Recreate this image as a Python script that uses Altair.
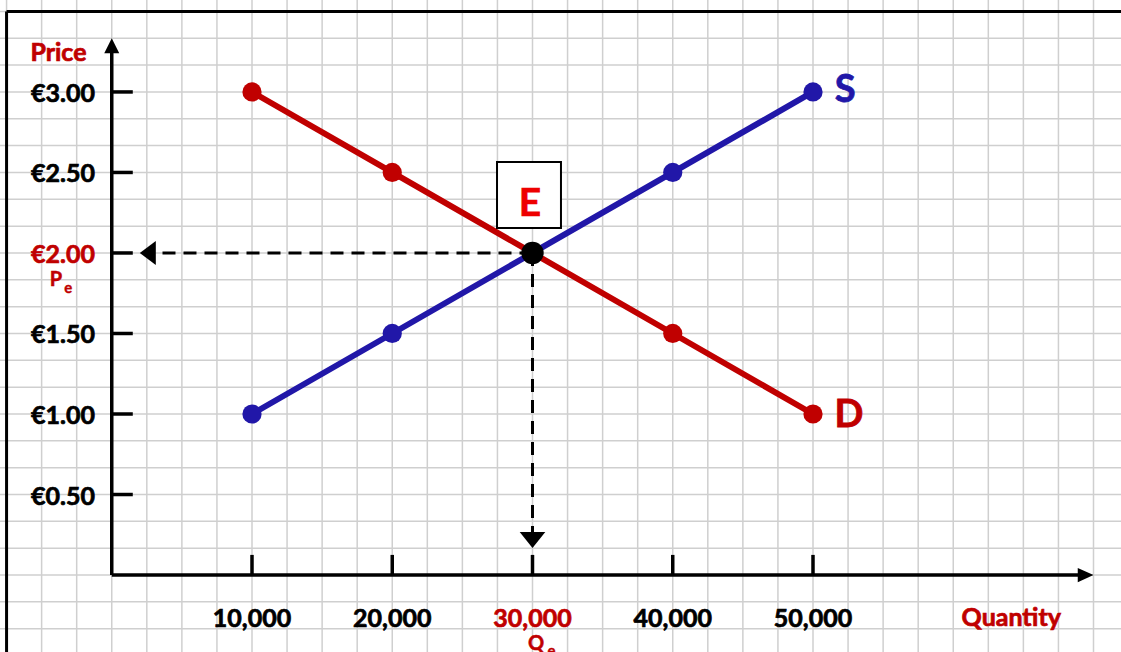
import altair as alt
import pandas as pd

# ---- data ----
quantity = [10000, 20000, 30000, 40000, 50000]
demand_price = [3.00, 2.50, 2.00, 1.50, 1.00]
supply_price = [1.00, 1.50, 2.00, 2.50, 3.00]
eq_q = [30000]
eq_p = [2.00]
y_tick_values = [0.5, 1.0, 1.5, 2.0, 2.5, 3.0]
y_tick_labels = ["€0.50", "€1.00", "€1.50", "€2.00", "€2.50", "€3.00"]
y_label_colors = ["black", "black", "black", "#c00000", "black", "black"]
x_tick_labels = ["10,000", "20,000", "30,000", "40,000", "50,000"]
x_label_colors = ["black", "black", "#c00000", "black", "black"]

RED = "#c00000"
BLUE = "#2117a8"
FONT = "Lato"

# graph-paper grid (decoration): 2,500 units by 1/6 euro per cell
x_grid = [2500 * k for k in range(-3, 29)]
y_grid = [k / 6 for k in range(-2, 22)]

XD = [-7968, 71961]
YD = [-0.478, 3.571]
xs = alt.Scale(domain=XD, nice=False, zero=False)
ys = alt.Scale(domain=YD, nice=False, zero=False)


def X(f="x", **kw):
    return alt.X(f, type="quantitative", scale=xs, axis=None, **kw)


def Y(f="y", **kw):
    return alt.Y(f, type="quantitative", scale=ys, axis=None, **kw)


gx = alt.Chart(pd.DataFrame({"x": x_grid})).mark_rule(color="#cfcfcf", strokeWidth=1.5).encode(x=X())
gy = alt.Chart(pd.DataFrame({"y": y_grid})).mark_rule(color="#cfcfcf", strokeWidth=1.5).encode(y=Y())

# frame (top and left border)
frame = alt.Chart(pd.DataFrame({
    "x": [-7500, -7500], "x2": [XD[1], -7500], "y": [3.5, 3.5], "y2": [3.5, YD[0]]
})).mark_rule(color="black", strokeWidth=3).encode(x=X(), x2="x2", y=Y(), y2="y2")

# axes
axes = alt.Chart(pd.DataFrame({
    "x": [0, 0], "x2": [0, 69200], "y": [0, 0], "y2": [3.26, 0]
})).mark_rule(color="black", strokeWidth=3.5).encode(x=X(), x2="x2", y=Y(), y2="y2")

ytick = alt.Chart(pd.DataFrame({"y": y_tick_values, "x": 0, "x2": 1500})).mark_rule(
    color="black", strokeWidth=3.5).encode(x=X(), x2="x2", y=Y())
xtick = alt.Chart(pd.DataFrame({"x": quantity, "y": 0, "y2": 0.125})).mark_rule(
    color="black", strokeWidth=3.5).encode(x=X(), y=Y(), y2="y2")

# arrow heads (tip at the data point)
arrow_df = pd.DataFrame({
    "x": [0, 70000, 2000, 30000],
    "y": [3.333, 0, 2.0, 0.168],
    "shape": ["M0,0L-1,2L1,2Z", "M0,0L-2.1,-0.95L-2.1,0.95Z",
              "M0,0L2,-1.5L2,1.5Z", "M0,0L-1.6,-2L1.6,-2Z"],
    "size": [225, 225, 256, 256],
})
arrows = alt.Chart(arrow_df).mark_point(filled=True, color="black", opacity=1).encode(
    x=X(), y=Y(),
    shape=alt.Shape("shape:N", scale=None, legend=None),
    size=alt.Size("size:Q", scale=None, legend=None),
)

# dashed guides
dash = alt.Chart(pd.DataFrame({
    "x": [30000, 30000], "x2": [2600, 30000], "y": [2.0, 2.0], "y2": [2.0, 0.25]
})).mark_rule(color="black", strokeWidth=3, strokeDash=[13, 8]).encode(
    x=X(), x2="x2", y=Y(), y2="y2")

df_d = pd.DataFrame({"x": quantity, "y": demand_price})
df_s = pd.DataFrame({"x": quantity, "y": supply_price})

d_line = alt.Chart(df_d).mark_line(color=RED, strokeWidth=6).encode(x=X(), y=Y())
s_line = alt.Chart(df_s).mark_line(color=BLUE, strokeWidth=6).encode(x=X(), y=Y())
d_pts = alt.Chart(df_d).mark_circle(color=RED, size=370, opacity=1).encode(x=X(), y=Y())
s_pts = alt.Chart(df_s).mark_circle(color=BLUE, size=370, opacity=1).encode(x=X(), y=Y())
eq_pt = alt.Chart(pd.DataFrame({"x": eq_q, "y": eq_p})).mark_circle(
    color="black", size=500, opacity=1).encode(x=X(), y=Y())

# E box
ebox = alt.Chart(pd.DataFrame({"x": [27470], "x2": [32030], "y": [2.565], "y2": [2.155]})).mark_rect(
    fill="white", stroke="black", strokeWidth=2).encode(x=X(), x2="x2", y=Y(), y2="y2")


def txt(df, size, align="center", dy=0, sw=0.7):
    return alt.Chart(df).mark_text(font=FONT, fontSize=size, fontWeight="bold", align=align,
                                   baseline="middle", dy=dy, strokeWidth=sw).encode(
        x=X(), y=Y(), text="t:N",
        color=alt.Color("c:N", scale=None, legend=None),
        stroke=alt.Stroke("c:N", scale=None, legend=None))


ylab = txt(pd.DataFrame({"x": -1194, "y": y_tick_values, "t": y_tick_labels, "c": y_label_colors}), 25,
           align="right", dy=2)
xlab = txt(pd.DataFrame({"x": quantity, "y": -0.267, "t": x_tick_labels, "c": x_label_colors}), 25, dy=1)
big = txt(pd.DataFrame({
    "x": [-3800, 64136],
    "y": [3.245, -0.261],
    "t": ["Price", "Quantity"],
    "c": [RED, RED],
}), 25, dy=1)
sd = txt(pd.DataFrame({"x": [52300, 52570], "y": [3.02, 1.0], "t": ["S", "D"], "c": [BLUE, RED]}), 38,
         dy=2, sw=0.8)
elab = txt(pd.DataFrame({"x": [29822], "y": [2.317], "t": ["E"], "c": ["#ee0000"]}), 39, dy=2, sw=0.6)
main_sub = txt(pd.DataFrame({"x": [-3974, 30250], "y": [1.835, -0.43], "t": ["P", "Q"], "c": [RED, RED]}),
               20, sw=0.5)
small_sub = txt(pd.DataFrame({"x": [-3100, 31350], "y": [1.785, -0.47], "t": ["e", "e"], "c": [RED, RED]}),
                15, sw=0.4)

chart = alt.layer(
    gx, gy, frame, dash, axes, ytick, xtick, arrows,
    d_line, s_line, d_pts, s_pts, eq_pt, ebox,
    ylab, xlab, big, sd, elab, main_sub, small_sub,
).properties(
    width=1121, height=652, padding=0, background="white",
    autosize=alt.AutoSizeParams(type="none"),
).configure_view(stroke=None)

chart.save("out.html", embed_options={"renderer": "svg", "actions": False})
